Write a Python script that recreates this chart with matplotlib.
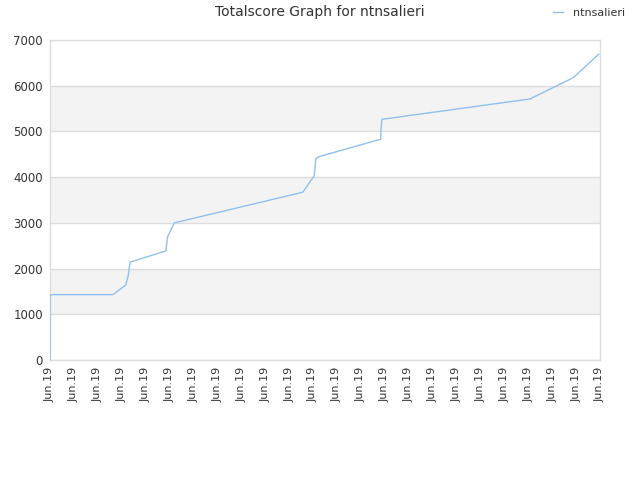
import matplotlib
matplotlib.use("Agg")
import matplotlib.pyplot as plt

# data (x in tick-index units)
x_vals = [0, 0, 0.06, 2.63, 3.17, 3.27, 3.35, 4.84, 4.92, 5.20, 10.57, 11.05, 11.12, 11.26,
          13.83, 13.84, 13.88, 20.07, 21.88, 22.95]
scores = [0, 1400, 1430, 1430, 1640, 1845, 2140, 2385, 2700, 3000, 3670, 4030, 4410, 4450,
          4830, 5045, 5265, 5710, 6175, 6690]
tick_labels = ["Jun.19"] * 24
y_ticks = [0, 1000, 2000, 3000, 4000, 5000, 6000, 7000]
series_name = "ntnsalieri"

fig = plt.figure(figsize=(6.4, 4.8), dpi=100)
ax = fig.add_axes([50/640, 120/480, 550/640, 320/480])

# alternating bands
for lo in (1000, 3000, 5000):
    ax.axhspan(lo, lo + 1000, color="#f3f3f3", zorder=0, lw=0)
for yv in y_ticks:
    ax.axhline(yv, color="#dddddd", lw=1, zorder=1)

line, = ax.plot(x_vals, scores, color="#90c0f0", lw=1, zorder=3, label=series_name)

ax.set_xlim(0, 23)
ax.set_ylim(0, 7000)
ax.set_xticks(range(len(tick_labels)))
ax.set_xticklabels(tick_labels, rotation=90, fontsize=8, color="#333333")
ax.set_yticks(y_ticks)
ax.set_yticklabels([str(v) for v in y_ticks], fontsize=8.5, color="#333333")
ax.tick_params(length=0, pad=5)
for s in ax.spines.values():
    s.set_color("#dddddd")
    s.set_linewidth(1)

fig.text(0.5, 1 - 12/480, "Totalscore Graph for ntnsalieri", ha="center", va="center",
         fontsize=10, color="#333333")
fig.legend(handles=[line], loc="center", bbox_to_anchor=(589/640, 1 - 13/480), frameon=False,
           fontsize=8, handlelength=0.9, handletextpad=0.9, labelcolor="#333333")

fig.savefig("out.png", dpi=100)
